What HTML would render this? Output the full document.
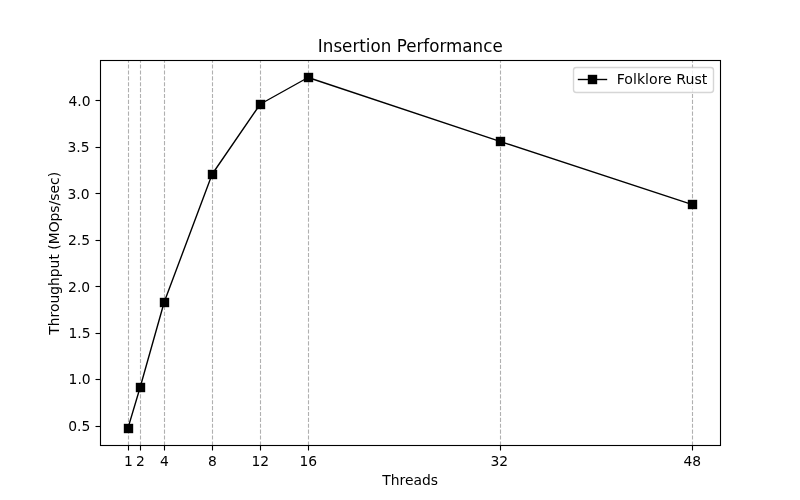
<!DOCTYPE html>
<html><head><meta charset="utf-8"><title>Insertion Performance</title>
<style>html,body{margin:0;padding:0;background:#fff;overflow:hidden;}svg{display:block;will-change:transform;}text{font-family:"DejaVu Sans","Liberation Sans",sans-serif;fill:#000;}</style></head><body>
<svg width="800" height="500" viewBox="0 0 800 500">
<rect x="0" y="0" width="800" height="500" fill="#fff"/>
<line x1="128.5" y1="445.5" x2="128.5" y2="60.5" stroke="#b0b0b0" stroke-width="1.1111" stroke-dasharray="4.1111 1.7778"/>
<line x1="140.5" y1="445.5" x2="140.5" y2="60.5" stroke="#b0b0b0" stroke-width="1.1111" stroke-dasharray="4.1111 1.7778"/>
<line x1="164.5" y1="445.5" x2="164.5" y2="60.5" stroke="#b0b0b0" stroke-width="1.1111" stroke-dasharray="4.1111 1.7778"/>
<line x1="212.5" y1="445.5" x2="212.5" y2="60.5" stroke="#b0b0b0" stroke-width="1.1111" stroke-dasharray="4.1111 1.7778"/>
<line x1="260.5" y1="445.5" x2="260.5" y2="60.5" stroke="#b0b0b0" stroke-width="1.1111" stroke-dasharray="4.1111 1.7778"/>
<line x1="308.5" y1="445.5" x2="308.5" y2="60.5" stroke="#b0b0b0" stroke-width="1.1111" stroke-dasharray="4.1111 1.7778"/>
<line x1="500.5" y1="445.5" x2="500.5" y2="60.5" stroke="#b0b0b0" stroke-width="1.1111" stroke-dasharray="4.1111 1.7778"/>
<line x1="692.5" y1="445.5" x2="692.5" y2="60.5" stroke="#b0b0b0" stroke-width="1.1111" stroke-dasharray="4.1111 1.7778"/>
<polyline points="128.18,427.50 140.17,387.25 164.16,302.25 212.13,174.25 260.10,104.25 308.07,77.50 499.95,141.40 691.83,204.40" fill="none" stroke="#000" stroke-width="1.3889" stroke-linejoin="round" stroke-linecap="square"/>
<rect x="124.5" y="424.5" width="8" height="8" fill="#000" stroke="#000" stroke-width="1.3889"/>
<rect x="136.5" y="383.5" width="8" height="8" fill="#000" stroke="#000" stroke-width="1.3889"/>
<rect x="160.5" y="298.5" width="8" height="8" fill="#000" stroke="#000" stroke-width="1.3889"/>
<rect x="208.5" y="170.5" width="8" height="8" fill="#000" stroke="#000" stroke-width="1.3889"/>
<rect x="256.5" y="100.5" width="8" height="8" fill="#000" stroke="#000" stroke-width="1.3889"/>
<rect x="304.5" y="73.5" width="8" height="8" fill="#000" stroke="#000" stroke-width="1.3889"/>
<rect x="496.5" y="137.5" width="8" height="8" fill="#000" stroke="#000" stroke-width="1.3889"/>
<rect x="688.5" y="200.5" width="8" height="8" fill="#000" stroke="#000" stroke-width="1.3889"/>
<rect x="100.5" y="60.5" width="620" height="385" fill="none" stroke="#000" stroke-width="1.1111"/>
<line x1="128.5" y1="445.5" x2="128.5" y2="450.5" stroke="#000" stroke-width="1.1111"/>
<line x1="140.5" y1="445.5" x2="140.5" y2="450.5" stroke="#000" stroke-width="1.1111"/>
<line x1="164.5" y1="445.5" x2="164.5" y2="450.5" stroke="#000" stroke-width="1.1111"/>
<line x1="212.5" y1="445.5" x2="212.5" y2="450.5" stroke="#000" stroke-width="1.1111"/>
<line x1="260.5" y1="445.5" x2="260.5" y2="450.5" stroke="#000" stroke-width="1.1111"/>
<line x1="308.5" y1="445.5" x2="308.5" y2="450.5" stroke="#000" stroke-width="1.1111"/>
<line x1="500.5" y1="445.5" x2="500.5" y2="450.5" stroke="#000" stroke-width="1.1111"/>
<line x1="692.5" y1="445.5" x2="692.5" y2="450.5" stroke="#000" stroke-width="1.1111"/>
<line x1="95.5" y1="100.5" x2="100.5" y2="100.5" stroke="#000" stroke-width="1.1111"/>
<line x1="95.5" y1="147.5" x2="100.5" y2="147.5" stroke="#000" stroke-width="1.1111"/>
<line x1="95.5" y1="193.5" x2="100.5" y2="193.5" stroke="#000" stroke-width="1.1111"/>
<line x1="95.5" y1="240.5" x2="100.5" y2="240.5" stroke="#000" stroke-width="1.1111"/>
<line x1="95.5" y1="286.5" x2="100.5" y2="286.5" stroke="#000" stroke-width="1.1111"/>
<line x1="95.5" y1="333.5" x2="100.5" y2="333.5" stroke="#000" stroke-width="1.1111"/>
<line x1="95.5" y1="379.5" x2="100.5" y2="379.5" stroke="#000" stroke-width="1.1111"/>
<line x1="95.5" y1="426.5" x2="100.5" y2="426.5" stroke="#000" stroke-width="1.1111"/>
<text x="128.33" y="466.00" font-size="13.8889" text-anchor="middle">1</text>
<text x="140.41" y="466.00" font-size="13.8889" text-anchor="middle">2</text>
<text x="164.39" y="466.00" font-size="13.8889" text-anchor="middle">4</text>
<text x="212.48" y="466.00" font-size="13.8889" text-anchor="middle">8</text>
<text x="260.29" y="466.00" font-size="13.8889" text-anchor="middle">12</text>
<text x="308.28" y="466.00" font-size="13.8889" text-anchor="middle">16</text>
<text x="499.39" y="466.00" font-size="13.8889" text-anchor="middle">32</text>
<text x="692.37" y="466.00" font-size="13.8889" text-anchor="middle">48</text>
<text x="90.56" y="106.00" font-size="13.8889" text-anchor="end">4.0</text>
<text x="89.51" y="152.00" font-size="13.8889" text-anchor="end">3.5</text>
<text x="89.57" y="199.00" font-size="13.8889" text-anchor="end">3.0</text>
<text x="90.12" y="245.00" font-size="13.8889" text-anchor="end">2.5</text>
<text x="90.18" y="292.00" font-size="13.8889" text-anchor="end">2.0</text>
<text x="90.55" y="338.00" font-size="13.8889" text-anchor="end">1.5</text>
<text x="90.65" y="384.00" font-size="13.8889" text-anchor="end">1.0</text>
<text x="90.37" y="431.00" font-size="13.8889" text-anchor="end">0.5</text>
<text x="410.15" y="485.00" font-size="13.8889" text-anchor="middle">Threads</text>
<text x="59.43" y="253.35" font-size="13.8889" text-anchor="middle" transform="rotate(-90 59.43 253.35)">Throughput (MOps/sec)</text>
<text x="410.28" y="52.00" font-size="16.6667" text-anchor="middle" textLength="184.80" lengthAdjust="spacingAndGlyphs" transform="translate(0 52.00) scale(1 1.09) translate(0 -52.00)">Insertion Performance</text>
<path d="M 576.28 92.5 L 710.72 92.5 Q 713.5 92.5 713.5 89.72 L 713.5 70.28 Q 713.5 67.5 710.72 67.5 L 576.28 67.5 Q 573.5 67.5 573.5 70.28 L 573.5 89.72 Q 573.5 92.5 576.28 92.5 Z" fill="#fff" stroke="#ccc" stroke-width="1.3889" opacity="0.8"/>
<line x1="578.5" y1="79.5" x2="606.5" y2="79.5" stroke="#000" stroke-width="1.3889" stroke-linecap="square"/>
<rect x="588.5" y="75.5" width="8" height="8" fill="#000" stroke="#000" stroke-width="1.3889"/>
<text x="616.73" y="84.00" font-size="13.8889" textLength="90.60" lengthAdjust="spacingAndGlyphs">Folklore Rust</text>
</svg>
</body></html>
